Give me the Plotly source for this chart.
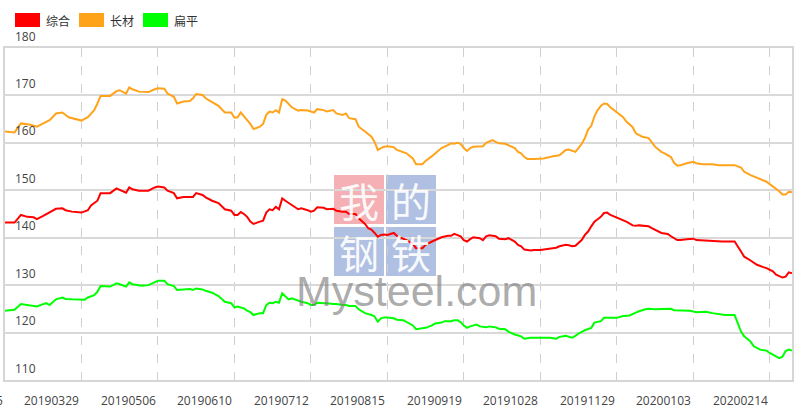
import plotly.graph_objects as go

# ---------------- data ----------------
tick_day = [0, 24, 48, 72, 96, 120, 144, 168, 192, 216, 240]
tick_labels = ["20190225", "20190329", "20190506", "20190610", "20190712", "20190815",
               "20190919", "20191028", "20191129", "20200103", "20200214"]
last_day = 247

series_names = ["综合", "长材", "扁平"]
series_colors = ["#ff0000", "#ffa31a", "#00ff00"]

zh_day = [0, 3, 5, 7, 9, 10, 12, 13, 16, 18, 19, 21, 24, 26, 27, 29, 30, 33, 35, 36, 38, 39, 40, 42, 43, 45, 47, 48, 50, 51, 53, 54, 56, 58, 59, 60, 62, 63, 65, 67, 69, 71, 72, 73, 74, 75, 76, 77, 78, 80, 81, 82, 83, 84, 85, 86, 87, 88, 89, 90, 92, 93, 95, 96, 97, 98, 100, 101, 103, 104, 106, 107, 108, 110, 111, 113, 114, 115, 116, 117, 118, 119, 120, 122, 123, 125, 126, 128, 129, 131, 132, 134, 136, 137, 139, 140, 141, 142, 143, 144, 145, 146, 147, 149, 150, 151, 152, 154, 155, 157, 158, 160, 161, 162, 163, 165, 166, 168, 169, 171, 173, 174, 176, 177, 178, 179, 180, 181, 182, 183, 184, 185, 186, 187, 188, 189, 190, 192, 194, 195, 197, 198, 199, 201, 202, 203, 205, 206, 208, 209, 211, 212, 214, 216, 217, 219, 221, 223, 225, 227, 229, 231, 232, 234, 236, 238, 239, 241, 242, 244, 245, 246, 247]
zh_val = [143.2, 143.2, 144.8, 144.4, 144.3, 143.9, 144.6, 145.0, 146.1, 146.2, 145.8, 145.5, 145.3, 145.8, 146.8, 147.8, 149.4, 149.4, 150.4, 150.1, 149.5, 150.6, 150.2, 149.9, 149.9, 149.9, 150.6, 150.8, 150.6, 149.9, 149.4, 148.3, 148.6, 148.5, 148.6, 149.4, 149.0, 148.5, 147.8, 147.3, 146.0, 145.7, 144.8, 144.8, 145.4, 145.0, 144.4, 143.4, 142.9, 143.4, 143.6, 145.3, 146.0, 145.8, 146.5, 146.0, 148.3, 147.8, 147.3, 146.9, 146.0, 146.2, 145.8, 145.5, 145.7, 146.4, 146.3, 146.0, 146.1, 145.7, 145.5, 145.5, 145.0, 145.0, 144.1, 142.9, 142.0, 141.7, 141.0, 140.2, 140.6, 140.7, 140.6, 141.0, 140.4, 139.9, 139.5, 138.7, 137.8, 137.8, 138.5, 139.2, 139.7, 140.1, 140.4, 140.4, 140.8, 140.6, 140.3, 139.5, 139.2, 139.7, 140.1, 139.9, 139.5, 140.3, 140.5, 140.3, 139.8, 139.7, 139.9, 139.2, 138.5, 138.2, 137.5, 137.3, 137.4, 137.4, 137.5, 137.7, 137.9, 138.2, 138.5, 138.4, 138.2, 138.3, 138.9, 139.5, 140.6, 141.3, 142.4, 143.4, 143.9, 144.4, 145.2, 145.3, 144.8, 144.3, 143.7, 143.4, 142.6, 142.5, 142.6, 142.5, 142.4, 142.0, 141.3, 141.0, 140.8, 140.3, 139.5, 139.5, 139.7, 139.8, 139.5, 139.4, 139.4, 139.3, 139.2, 139.2, 139.2, 137.1, 136.0, 135.2, 134.3, 133.8, 133.6, 132.9, 132.2, 131.6, 131.8, 132.7, 132.5]

cc_day = [0, 3, 5, 6, 8, 10, 13, 14, 16, 18, 20, 24, 26, 28, 29, 30, 33, 35, 36, 38, 39, 40, 42, 43, 45, 47, 48, 50, 51, 53, 54, 56, 58, 59, 60, 62, 63, 65, 67, 69, 71, 72, 73, 74, 75, 76, 77, 78, 80, 81, 82, 83, 84, 85, 86, 87, 88, 89, 90, 92, 93, 95, 96, 97, 98, 100, 101, 103, 104, 106, 107, 108, 110, 111, 113, 114, 115, 116, 117, 118, 119, 120, 122, 123, 125, 126, 128, 129, 131, 132, 134, 136, 137, 139, 140, 141, 142, 143, 144, 145, 146, 147, 149, 150, 151, 153, 154, 155, 157, 158, 160, 161, 162, 163, 164, 166, 167, 169, 171, 172, 174, 175, 176, 177, 178, 179, 180, 181, 182, 183, 184, 185, 186, 187, 188, 189, 190, 192, 194, 195, 197, 198, 199, 200, 202, 203, 204, 206, 207, 209, 210, 211, 212, 214, 216, 217, 219, 222, 224, 227, 229, 231, 232, 234, 236, 238, 239, 240, 242, 243, 244, 245, 246, 247]
cc_val = [162.4, 162.2, 164.1, 164.0, 163.8, 163.4, 164.5, 164.8, 166.2, 166.4, 165.4, 164.7, 165.4, 166.9, 168.3, 169.9, 169.9, 170.9, 171.1, 170.4, 171.7, 171.3, 170.8, 170.8, 170.7, 171.3, 171.5, 171.4, 170.4, 169.7, 168.3, 168.7, 168.8, 169.4, 170.3, 170.1, 169.4, 168.6, 167.8, 166.4, 166.4, 165.3, 165.4, 166.4, 165.5, 164.8, 164.0, 162.9, 163.4, 164.0, 165.9, 166.6, 166.4, 166.9, 166.4, 169.2, 168.9, 168.3, 167.5, 166.8, 166.9, 166.8, 166.6, 166.4, 167.1, 166.9, 166.6, 166.9, 166.2, 165.9, 166.2, 165.2, 165.0, 163.4, 162.4, 161.8, 161.3, 160.2, 158.5, 158.9, 159.2, 159.3, 159.1, 158.5, 158.1, 157.8, 156.7, 155.5, 155.5, 156.2, 157.2, 158.3, 158.9, 159.5, 159.9, 159.8, 160.0, 159.8, 158.9, 158.3, 158.9, 159.2, 159.2, 159.3, 160.0, 160.6, 160.2, 159.9, 159.8, 159.5, 158.9, 158.1, 157.8, 157.0, 156.6, 156.6, 156.6, 156.7, 157.0, 157.2, 157.4, 157.9, 158.5, 158.6, 158.3, 158.1, 158.9, 159.8, 161.0, 162.8, 163.6, 165.6, 166.9, 167.8, 168.3, 168.2, 167.5, 166.4, 165.4, 164.5, 163.3, 162.0, 161.7, 161.3, 161.0, 160.2, 159.2, 158.1, 157.8, 157.0, 155.8, 155.2, 155.3, 155.7, 156.0, 155.7, 155.5, 155.5, 155.3, 155.3, 155.3, 154.8, 153.9, 153.2, 152.6, 152.1, 151.8, 151.3, 150.4, 149.8, 149.1, 149.1, 149.7, 149.6]

bp_day = [0, 3, 5, 7, 9, 10, 12, 13, 14, 16, 18, 19, 21, 24, 25, 26, 28, 29, 30, 33, 35, 36, 38, 39, 40, 42, 43, 45, 47, 48, 50, 51, 53, 54, 56, 58, 59, 60, 62, 63, 65, 67, 69, 71, 72, 73, 74, 75, 76, 77, 78, 80, 81, 82, 83, 84, 85, 86, 87, 88, 89, 90, 92, 93, 95, 96, 97, 98, 100, 101, 103, 104, 106, 107, 108, 110, 111, 113, 115, 116, 117, 118, 119, 120, 122, 123, 125, 126, 128, 129, 131, 132, 134, 135, 137, 138, 140, 141, 142, 143, 144, 145, 146, 148, 149, 151, 152, 154, 155, 157, 158, 160, 162, 163, 165, 166, 168, 169, 171, 173, 174, 176, 177, 178, 179, 180, 182, 184, 185, 187, 188, 189, 191, 192, 194, 196, 198, 199, 201, 202, 204, 206, 207, 209, 210, 212, 213, 215, 217, 218, 220, 222, 224, 226, 228, 229, 231, 232, 234, 235, 237, 239, 240, 242, 243, 244, 245, 246, 247]
bp_val = [124.6, 124.8, 126.0, 125.8, 125.6, 125.5, 126.0, 126.2, 125.8, 127.0, 127.4, 127.1, 127.0, 126.9, 126.9, 127.4, 127.9, 128.6, 129.8, 129.7, 130.4, 130.2, 129.7, 130.6, 130.2, 130.0, 129.9, 130.0, 130.7, 130.9, 130.9, 130.2, 129.8, 129.0, 129.1, 129.2, 129.0, 129.3, 129.1, 128.8, 128.4, 127.7, 126.5, 126.2, 125.3, 125.5, 125.3, 125.1, 124.6, 124.3, 123.7, 124.1, 124.1, 125.8, 126.3, 126.2, 126.5, 126.3, 128.3, 127.7, 127.0, 127.2, 126.7, 126.5, 126.2, 125.8, 125.8, 126.3, 126.2, 126.2, 126.0, 126.0, 125.8, 125.8, 125.6, 125.6, 124.9, 124.1, 123.7, 123.4, 122.3, 123.0, 123.2, 123.2, 123.0, 122.7, 122.6, 122.2, 121.5, 120.7, 120.8, 121.0, 121.5, 121.9, 122.1, 122.4, 122.4, 122.6, 122.6, 122.2, 121.5, 121.0, 121.3, 121.7, 121.3, 121.1, 121.3, 121.1, 120.8, 120.7, 120.2, 119.6, 119.2, 118.7, 118.9, 118.9, 118.9, 118.8, 118.9, 118.7, 119.1, 119.3, 119.1, 118.9, 119.3, 119.8, 120.5, 121.0, 122.1, 122.4, 123.1, 123.1, 123.0, 123.1, 123.5, 123.6, 124.2, 124.5, 124.9, 125.0, 124.9, 124.9, 124.9, 125.0, 124.7, 124.7, 124.7, 124.6, 124.3, 124.3, 124.4, 124.1, 123.9, 123.7, 123.7, 123.7, 120.2, 119.2, 118.1, 117.1, 116.4, 116.2, 115.7, 114.9, 114.6, 114.9, 116.1, 116.4, 116.2]

y_ticks = [110, 120, 130, 140, 150, 160, 170, 180]

# ---------------- figure ----------------
W, H = 800, 416
ML, MR, MT, MB = 5, 8, 48, 36
PW, PH = W - ML - MR, H - MT - MB


def px(x):  # pixel -> paper x
    return (x - ML) / PW


def py(y):  # pixel -> paper y
    return (H - MB - y) / PH


fig = go.Figure()

for name, color, days, vals in [
    (series_names[0], series_colors[0], zh_day, zh_val),
    (series_names[1], series_colors[1], cc_day, cc_val),
    (series_names[2], series_colors[2], bp_day, bp_val),
]:
    fig.add_trace(go.Scatter(x=days, y=vals, mode="lines", name=name,
                             line=dict(color=color, width=2), showlegend=False,
                             hoverinfo="skip"))

shapes = []
annotations = []

# legend (coloured boxes + labels)
leg_box_x = [15, 79, 143]
for i, (name, color) in enumerate(zip(series_names, series_colors)):
    x0 = leg_box_x[i]
    shapes.append(dict(type="rect", xref="paper", yref="paper",
                       x0=px(x0), x1=px(x0 + 25), y0=py(27), y1=py(13),
                       fillcolor=color, line=dict(width=0)))
    annotations.append(dict(text=name, xref="paper", yref="paper", x=px(x0 + 29), y=py(20),
                            xanchor="left", yanchor="middle", showarrow=False,
                            font=dict(family="Noto Sans CJK SC", size=12, color="#333")))

# watermark (boxes under the lines, characters as text)
wm = [("我", 334, 175, "rgba(230,80,92,0.45)"), ("的", 386, 175, "rgba(80,115,190,0.45)"),
      ("钢", 334, 227, "rgba(80,115,190,0.45)"), ("铁", 386, 227, "rgba(80,115,190,0.45)")]
for ch, x0, y0, fc in wm:
    shapes.append(dict(type="rect", xref="paper", yref="paper", layer="below",
                       x0=px(x0), x1=px(x0 + 50), y0=py(y0 + 49), y1=py(y0),
                       fillcolor=fc, line=dict(width=0)))
    annotations.append(dict(text=ch, xref="paper", yref="paper", x=px(x0 + 25), y=py(y0 + 25),
                            xanchor="center", yanchor="middle", showarrow=False,
                            font=dict(family="Noto Sans CJK SC", size=40, color="rgba(255,255,255,0.92)")))
annotations.append(dict(text="Mysteel.com",
                        xref="paper", yref="paper", x=px(416), y=py(291),
                        xanchor="center", yanchor="middle", showarrow=False,
                        font=dict(family="Liberation Sans", size=43, color="rgba(125,125,125,0.65)")))

# y tick labels (inside, above grid lines)
for v in y_ticks:
    annotations.append(dict(text=str(v), xref="paper", yref="y", x=0, y=v, xshift=8, yshift=12,
                            xanchor="left", yanchor="middle", showarrow=False,
                            font=dict(family="Open Sans", size=12, color="#444")))

# x tick labels (right-aligned to their grid line)
for d, lab in zip(tick_day, tick_labels):
    annotations.append(dict(text=lab, xref="x", yref="paper", x=d, y=py(401),
                            xanchor="right", yanchor="middle", showarrow=False,
                            font=dict(family="Open Sans", size=12, color="#444")))

fig.update_layout(
    width=W, height=H,
    margin=dict(l=ML, r=MR, t=MT, b=MB),
    paper_bgcolor="white", plot_bgcolor="rgba(0,0,0,0)",
    showlegend=False, hovermode=False,
    shapes=shapes, annotations=annotations,
    xaxis=dict(range=[0, last_day], tickmode="array", tickvals=tick_day, showticklabels=False,
               ticks="", showgrid=True, gridcolor="#cfcfcf", griddash="dash", gridwidth=1,
               showline=True, mirror=True, linecolor="#d6d6d6", linewidth=2, zeroline=False),
    yaxis=dict(range=[110, 180], tickmode="array", tickvals=y_ticks, showticklabels=False,
               ticks="", showgrid=True, gridcolor="#d9d9d9", gridwidth=1.5,
               showline=True, mirror=True, linecolor="#d6d6d6", linewidth=2, zeroline=False),
)

fig.write_html("out.html", config={"displayModeBar": False},
               post_script="document.body.style.margin='0px';document.body.style.overflow='hidden';")
